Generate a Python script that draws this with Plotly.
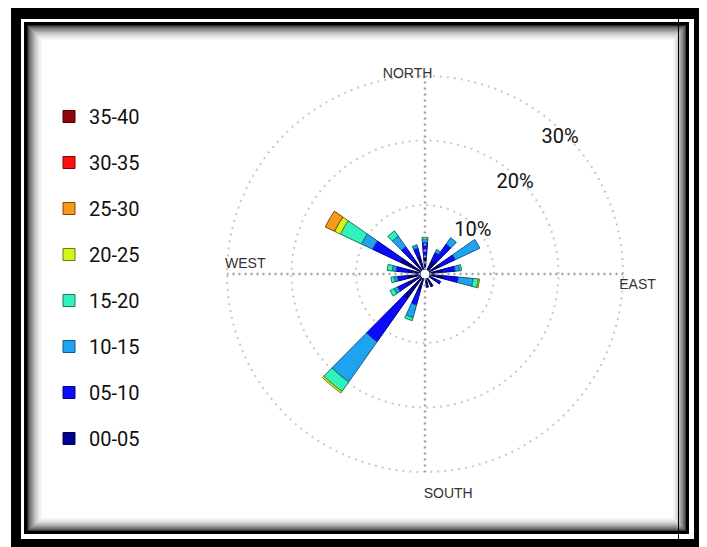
import plotly.graph_objects as go

# page is shown with the browser's default 8px body margin, so the figure is sized to fit
OFF = 8
W, H = 707 - OFF, 547 - OFF

# ---------------- data ----------------
directions = [0, 30, 40, 60, 80, 100, 120, 150, 170, 200, 220, 240, 260, 280, 300, 320, 340]
classes = ["00-05", "05-10", "10-15", "15-20", "20-25", "25-30", "30-35", "35-40"]
s00_05 = [2.0, 1.5, 2.0, 2.0, 2.0, 2.0, 1.2, 1.5, 1.4, 2.0, 4.0, 2.5, 2.0, 2.0, 3.5, 2.0, 2.0]
s05_10 = [2.2, 1.5, 3.0, 2.5, 2.0, 2.5, 0.8, 0.0, 0.0, 2.3, 8.2, 1.5, 1.6, 1.8, 4.8, 2.5, 1.5]
s10_15 = [0.5, 0.5, 1.2, 4.2, 0.7, 2.3, 0.0, 0.0, 0.0, 2.0, 7.6, 0.6, 0.5, 0.6, 1.9, 2.0, 0.5]
s15_20 = [0.3, 0.0, 0.0, 0.0, 0.3, 0.8, 0.0, 0.0, 0.0, 0.5, 1.8, 0.7, 0.5, 0.8, 3.6, 1.0, 0.0]
s20_25 = [0.0, 0.0, 0.0, 0.0, 0.0, 0.2, 0.0, 0.0, 0.0, 0.0, 0.3, 0.0, 0.0, 0.0, 1.0, 0.0, 0.0]
s25_30 = [0.0, 0.0, 0.0, 0.0, 0.0, 0.0, 0.0, 0.0, 0.0, 0.0, 0.0, 0.0, 0.0, 0.0, 1.6, 0.0, 0.0]
s30_35 = [0.0] * 17
s35_40 = [0.0] * 17
series = [s00_05, s05_10, s10_15, s15_20, s20_25, s25_30, s30_35, s35_40]

ring_values = [10, 20, 30]
ring_labels = ["10%", "20%", "30%"]
ring_label_r = [9.3, 19.15, 29.0]
ring_label_theta = [48, 44.7, 44.8]
compass_labels = ["NORTH", "EAST", "SOUTH", "WEST"]
compass_theta = [355, 93, 174, 273]
compass_r = [30.3, 32.3, 33.7, 27.2]
axis_theta = [0, 90, 180, 270]
axis_end = 30

# ---------------- styles ----------------
fills = ["#00008f", "#0a0aff", "#1fa3ee", "#2ff2bd", "#d2f51c", "#f79a1a", "#ff1010", "#8e0606"]
edges = ["#000050", "#00008a", "#0b5c8c", "#137a5e", "#6d7a10", "#7a4a08", "#8a0000", "#4a0000"]

fig = go.Figure()

# compass axis lines (dotted), drawn under the bars
ax_r, ax_t = [], []
for t in axis_theta:
    ax_r += [0, axis_end, None]
    ax_t += [t, t, None]
fig.add_trace(go.Scatterpolar(r=ax_r, theta=ax_t, mode="lines",
                              line=dict(color="#a0a0a0", width=2.5, dash="2px,4px"),
                              showlegend=False, hoverinfo="skip"))

n = len(classes)
for i, (name, vals, fc, ec) in enumerate(zip(classes, series, fills, edges)):
    fig.add_trace(go.Barpolar(
        r=vals, theta=directions, name=name, width=9.5,
        marker=dict(color=fc, line=dict(color=ec, width=1)),
        legendgroup=name, legendrank=100 + (n - i), hoverinfo="skip"))

fig.add_trace(go.Scatterpolar(
    r=ring_label_r, theta=ring_label_theta, text=ring_labels, mode="text",
    textfont=dict(family="Roboto, Arial, sans-serif", size=20, color="#111"),
    showlegend=False, cliponaxis=False, hoverinfo="skip"))
fig.add_trace(go.Scatterpolar(
    r=compass_r, theta=compass_theta, text=compass_labels, mode="text",
    textfont=dict(family="Liberation Sans Narrow, Arial Narrow, sans-serif", size=14, color="#333333"),
    showlegend=False, cliponaxis=False, hoverinfo="skip"))

# polar placement (page centre 425,274; ring 30 at 198 px)
cx, cy = 425 - OFF, 274 - OFF
RMAX, HOLE = 34, 0.02
Rd = 198 / (HOLE + (1 - HOLE) * 30 / RMAX)
fig.update_layout(
    width=W, height=H, margin=dict(l=0, r=0, t=0, b=0),
    paper_bgcolor="white", plot_bgcolor="white",
    polar=dict(
        domain=dict(x=[(cx - Rd) / W, (cx + Rd) / W], y=[1 - (cy + Rd) / H, 1 - (cy - Rd) / H]),
        bgcolor="rgba(0,0,0,0)", hole=HOLE, barmode="stack",
        radialaxis=dict(range=[0, RMAX], tickvals=ring_values, showticklabels=False,
                        showline=False, ticks="", gridcolor="#c8c8c8", gridwidth=2,
                        griddash="2px,5px"),
        angularaxis=dict(rotation=90, direction="clockwise", showgrid=False,
                         showticklabels=False, ticks="", showline=False),
    ),
    legend=dict(x=41 / W, y=1 - 89 / H, xanchor="left", yanchor="top",
                traceorder="grouped", tracegroupgap=17,
                font=dict(family="Roboto, Arial, sans-serif", size=20, color="#111"),
                bgcolor="rgba(0,0,0,0)"),
)

def px(x):
    return (x - OFF) / W

def py(y):
    return 1 - (y - OFF) / H

shapes = []
shapes.append(dict(type="rect", xref="paper", yref="paper", x0=px(11), x1=px(707), y0=py(547), y1=py(4),
                   fillcolor="black", line=dict(width=0), layer="below"))
shapes.append(dict(type="rect", xref="paper", yref="paper", x0=px(21), x1=px(694), y0=py(539), y1=py(19),
                   fillcolor="white", line=dict(width=0), layer="below"))
shapes.append(dict(type="rect", xref="paper", yref="paper", x0=px(24), x1=px(689), y0=py(534), y1=py(22),
                   fillcolor="black", line=dict(width=0), layer="below"))
# soft inner shadow: nested filled rectangles getting lighter towards the inside
greys = ["#4a4a4a", "#666666", "#7e7e7e", "#949494", "#a8a8a8", "#bababa", "#cacaca",
         "#d8d8d8", "#e4e4e4", "#eeeeee", "#f6f6f6", "#ffffff"]
for i, g in enumerate(greys):
    o = 3.5 + i * 1.3
    shapes.append(dict(type="rect", xref="paper", yref="paper",
                       x0=px(24 + o), x1=px(689 - o * 0.9), y0=py(534 - o * 0.9), y1=py(22 + o),
                       fillcolor=g, line=dict(width=0), layer="below"))
shapes.append(dict(type="line", xref="paper", yref="paper", x0=px(678.5), x1=px(678.5), y0=py(539), y1=py(0),
                   line=dict(color="black", width=1)))
fig.update_layout(shapes=shapes)

fig.write_html("out.html")
